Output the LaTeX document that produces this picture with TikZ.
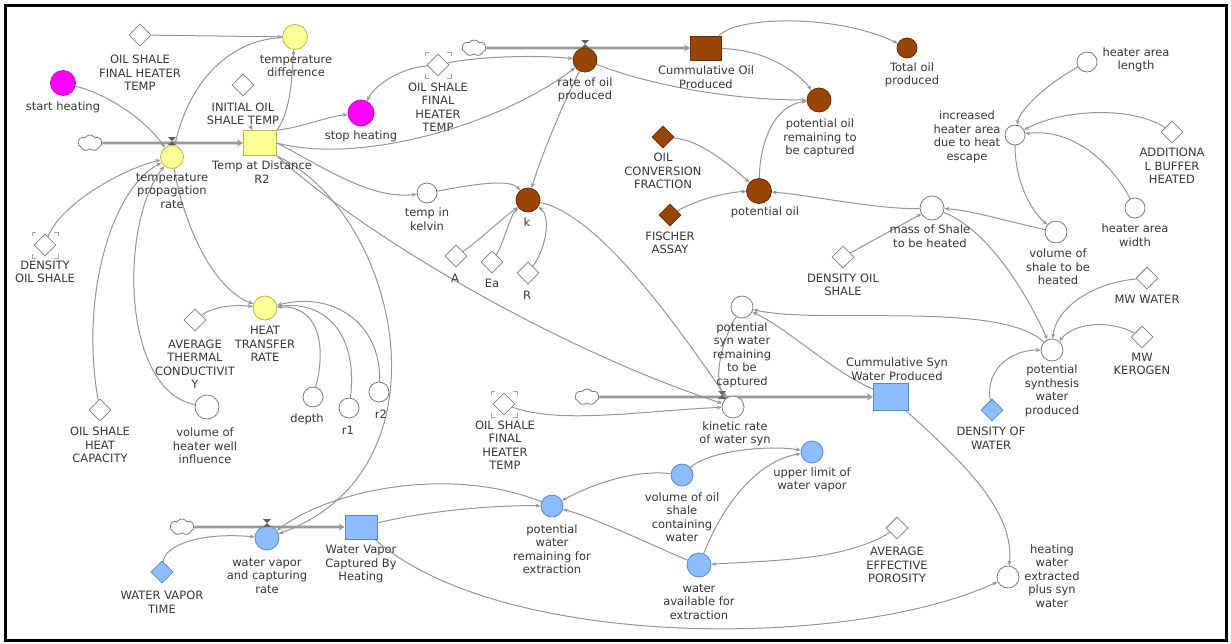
\documentclass[tikz,border=0pt]{standalone}
\usepackage{fontspec}
\newfontfamily\dvs{DejaVu Sans}
\usetikzlibrary{shapes.geometric,shapes.symbols,arrows.meta,calc}
\pgfdeclarelayer{background}
\pgfsetlayers{background,main}
\definecolor{yelF}{RGB}{255,255,150}
\definecolor{yelD}{RGB}{185,185,70}
\definecolor{magF}{RGB}{255,0,255}
\definecolor{magD}{RGB}{200,0,200}
\definecolor{brnF}{RGB}{150,70,0}
\definecolor{brnD}{RGB}{105,45,0}
\definecolor{bluF}{RGB}{140,190,255}
\definecolor{bluD}{RGB}{85,135,215}
\definecolor{lineC}{RGB}{150,150,150}
\definecolor{nodeD}{RGB}{125,125,125}
\definecolor{txtC}{RGB}{55,55,55}
\newcommand\lblf{\dvs\fontsize{11.5}{13.5}\selectfont}
\newcommand\ghostmark[1]{%
 \draw[ghostc] ($(#1)+(-13,-9)$) -- ++(0,-4) -- ++(4,0);
 \draw[ghostc] ($(#1)+(9,-13)$) -- ++(4,0) -- ++(0,4);
 \draw[ghostc] ($(#1)+(13,9)$) -- ++(0,4) -- ++(-4,0);
 \draw[ghostc] ($(#1)+(-9,13)$) -- ++(-4,0) -- ++(0,-4);}
\newcommand\valvemark[2]{\fill[gray!75!black] (#1-4,#2-4) -- (#1+4,#2-4) -- (#1-4,#2+4) -- (#1+4,#2+4) -- cycle;}
\begin{document}
\begin{tikzpicture}[x=1pt,y=-1pt,
 conn/.style={draw=lineC, line width=1pt, -{Stealth[length=5pt,width=4pt]}},
 pipe/.style={draw=gray!80, line width=2.6pt, -{Stealth[length=6pt,width=7pt]}},
 ghostc/.style={draw=gray!70, line width=0.7pt},
 lbl/.style={font=\lblf, align=center, text=txtC, inner sep=0pt},
 auxw/.style={circle, draw=nodeD, fill=white, line width=0.8pt, minimum size=20pt, inner sep=0pt},
 auxy/.style={auxw, draw=yelD, fill=yelF},
 auxm/.style={auxw, draw=magD, fill=magF},
 auxb/.style={auxw, draw=brnD, fill=brnF},
 auxbl/.style={auxw, draw=bluD, fill=bluF},
 convw/.style={diamond, draw=nodeD, fill=white, line width=0.8pt, minimum size=22pt, inner sep=0pt},
 convb/.style={convw, draw=brnD, fill=brnF},
 convbl/.style={convw, draw=bluD, fill=bluF},
 stock/.style={rectangle, line width=0.9pt, minimum width=33pt, minimum height=25pt, inner sep=0pt},
 cloudn/.style={cloud, cloud puffs=7, cloud puff arc=110, aspect=1.5, draw=nodeD, fill=white, line width=0.8pt, minimum width=24pt, minimum height=16pt, inner sep=0pt}
]
\useasboundingbox (0,0) rectangle (1231,643);
\begin{pgfonlayer}{background}
\fill[white] (0,0) rectangle (1231,643);
\end{pgfonlayer}
\draw[line width=3pt] (5,5) rectangle (1226,640);

% ---------- top left ----------
\node[convw] (fhtA) at (140,35) {};
\node[lbl] (fhtAL) at (140,73) {OIL SHALE\\FINAL HEATER\\TEMP};
\node[auxy, minimum size=25pt] (tdiff) at (295,37) {};
\node[lbl] (tdiffL) at (296,66) {temperature\\difference};
\node[auxm, minimum size=25pt] (starth) at (63,83) {};
\node[lbl] (starthL) at (63,107) {start heating};
\node[convw] (initT) at (243,85) {};
\node[lbl] (initTL) at (243,114) {INITIAL OIL\\SHALE TEMP};
\node[cloudn] (cloudA) at (90,143) {};
\node[auxy, minimum size=23pt] (tprop) at (172,157) {};
\node[lbl] (tpropL) at (172,191) {temperature\\propagation\\rate};
\node[stock, fill=yelF, draw=yelD] (tstock) at (260,143) {};
\node[lbl] (tstockL) at (262,172) {Temp at Distance\\R2};

% ---------- top middle ----------
\node[auxm, minimum size=26pt] (stoph) at (361,113) {};
\node[lbl] (stophL) at (361,136) {stop heating};
\node[convw] (fhtB) at (438,65) {};
\node[lbl] (fhtBL) at (438,107) {OIL SHALE\\FINAL\\HEATER\\TEMP};
\node[cloudn] (cloudB) at (474,48) {};
\node[auxb, minimum size=24pt] (rateoil) at (585,60) {};
\node[lbl] (rateoilL) at (585,90) {rate of oil\\produced};
\node[stock, fill=brnF, draw=brnD, minimum width=31pt, minimum height=24pt] (oilstock) at (706,48) {};
\node[lbl] (oilstockL) at (706,77) {Cummulative Oil\\Produced};
\node[auxb, minimum size=20pt] (totoil) at (907,48) {};
\node[lbl] (totoilL) at (912,75) {Total oil\\produced};
\node[auxb, minimum size=24pt] (potrem) at (819,100) {};
\node[lbl] (potremL) at (820,138) {potential oil\\remaining to\\be captured};
\node[convb] (ocf) at (663,137) {};
\node[lbl] (ocfL) at (663,171) {OIL\\CONVERSION\\FRACTION};
\node[auxb, minimum size=25pt] (potoil) at (759,191) {};
\node[lbl] (potoilL) at (765,212) {potential oil};
\node[convb] (fa) at (670,215) {};
\node[lbl] (faL) at (670,243) {FISCHER\\ASSAY};
\node[auxb, minimum size=24pt] (kk) at (528,200) {};
\node[lbl] (kkL) at (527,222) {k};
\node[auxw] (tempk) at (427,193) {};
\node[lbl] (tempkL) at (427,219) {temp in\\kelvin};
\node[convw] (pa) at (456,256) {};
\node[lbl] (paL) at (455,278) {A};
\node[convw] (pea) at (492,262) {};
\node[lbl] (peaL) at (492,283) {Ea};
\node[convw] (pr) at (528,273) {};
\node[lbl] (prL) at (527,295) {R};

% ---------- top right ----------
\node[auxw] (hal) at (1087,62) {};
\node[lbl] (halL) at (1136,60) {heater area\\length};
\node[auxw] (inc) at (1015,135) {};
\node[lbl] (incL) at (967,137) {increased\\heater area\\due to heat\\escape};
\node[convw] (abh) at (1172,132) {};
\node[lbl] (abhL) at (1172,166) {ADDITIONA\\L BUFFER\\HEATED};
\node[auxw] (haw) at (1135,208) {};
\node[lbl] (hawL) at (1135,235) {heater area\\width};
\node[auxw, minimum size=24pt] (mass) at (932,208) {};
\node[lbl] (massL) at (930,236) {mass of Shale\\to be heated};
\node[auxw, minimum size=22pt] (vols) at (1056,232) {};
\node[lbl] (volsL) at (1058,267) {volume of\\shale to be\\heated};
\node[convw] (dos) at (843,257) {};
\node[lbl] (dosL) at (843,285) {DENSITY OIL\\SHALE};
\node[convw] (mww) at (1147,278) {};
\node[lbl] (mwwL) at (1147,299) {MW WATER};
\node[convw] (mwk) at (1142,337) {};
\node[lbl] (mwkL) at (1142,364) {MW\\KEROGEN};
\node[auxw, minimum size=22pt] (psyn) at (1052,350) {};
\node[lbl] (psynL) at (1052,391) {potential\\synthesis\\water\\produced};
\node[convbl] (dow) at (992,410) {};
\node[lbl] (dowL) at (991,438) {DENSITY OF\\WATER};

% ---------- middle ----------
\node[auxw, minimum size=22pt] (psr) at (742,307) {};
\node[lbl] (psrL) at (742,355) {potential\\syn water\\remaining\\to be\\captured};
\node[stock, fill=bluF, draw=bluD, minimum width=35pt, minimum height=27pt] (synstock) at (891,397) {};
\node[lbl] (synstockL) at (897,369) {Cummulative Syn\\Water Produced};
\node[cloudn] (cloudC) at (587,397) {};
\node[auxw, minimum size=22pt] (kin) at (733,407) {};
\node[lbl] (kinL) at (735,434) {kinetic rate\\of water syn};
\node[convw] (fhtC) at (504,404) {};
\node[lbl] (fhtCL) at (505,445) {OIL SHALE\\FINAL\\HEATER\\TEMP};

% ---------- left middle ----------
\node[convw] (dosA) at (45,245) {};
\node[lbl] (dosAL) at (45,272) {DENSITY\\OIL SHALE};
\node[convw] (atc) at (195,320) {};
\node[lbl] (atcL) at (195,364) {AVERAGE\\THERMAL\\CONDUCTIVIT\\Y};
\node[auxy, minimum size=24pt] (htr) at (265,308) {};
\node[lbl] (htrL) at (265,344) {HEAT\\TRANSFER\\RATE};
\node[auxw] (depth) at (313,397) {};
\node[lbl] (depthL) at (307,419) {depth};
\node[auxw] (rA) at (349,408) {};
\node[lbl] (rAL) at (348,430) {r1};
\node[auxw] (rB) at (379,392) {};
\node[lbl] (rBL) at (381,414) {r2};
\node[convw] (hcap) at (100,410) {};
\node[lbl] (hcapL) at (100,445) {OIL SHALE\\HEAT\\CAPACITY};
\node[auxw, minimum size=24pt] (vhwi) at (207,407) {};
\node[lbl] (vhwiL) at (205,446) {volume of\\heater well\\influence};

% ---------- bottom ----------
\node[cloudn] (cloudD) at (182,527) {};
\node[auxbl, minimum size=24pt] (wvr) at (267,538) {};
\node[lbl] (wvrL) at (267,576) {water vapor\\and capturing\\rate};
\node[convbl] (wvt) at (162,572) {};
\node[lbl] (wvtL) at (162,602) {WATER VAPOR\\TIME};
\node[stock, fill=bluF, draw=bluD, minimum width=32pt, minimum height=24pt] (wvstock) at (361,527) {};
\node[lbl] (wvstockL) at (361,564) {Water Vapor\\Captured By\\Heating};
\node[auxbl, minimum size=22pt] (pwr) at (552,506) {};
\node[lbl] (pwrL) at (552,549) {potential\\water\\remaining for\\extraction};
\node[auxbl, minimum size=22pt] (vosc) at (682,475) {};
\node[lbl] (voscL) at (682,517) {volume of oil\\shale\\containing\\water};
\node[auxbl, minimum size=22pt] (ulim) at (812,452) {};
\node[lbl] (ulimL) at (812,480) {upper limit of\\water vapor};
\node[auxbl, minimum size=24pt] (wav) at (699,565) {};
\node[lbl] (wavL) at (699,602) {water\\available for\\extraction};
\node[convw] (aep) at (897,528) {};
\node[lbl] (aepL) at (897,565) {AVERAGE\\EFFECTIVE\\POROSITY};
\node[auxw, minimum size=22pt] (hwe) at (1008,577) {};
\node[lbl] (hweL) at (1052,576) {heating\\water\\extracted\\plus syn\\water};

% ghosts and valves
\ghostmark{fhtB}
\ghostmark{fhtC}
\ghostmark{dosA}
\valvemark{172}{141}
\valvemark{585}{44}
\valvemark{722}{395}
\valvemark{267}{523}

\begin{pgfonlayer}{background}
% pipes
\draw[pipe] (cloudA) -- (tstock);
\draw[pipe] (cloudB) -- (oilstock);
\draw[pipe] (cloudC) -- (synstock);
\draw[pipe] (cloudD) -- (wvstock);
% top left connectors
\draw[conn] (fhtA) -- (tdiff);
\draw[conn] (tdiff) .. controls (230,40) and (190,80) .. (tprop);
\draw[conn] (tstock.north east) .. controls (292,110) and (292,70) .. (tdiff);
\draw[conn] (starth) .. controls (110,95) and (145,120) .. (tprop);
\draw[conn] (initTL) -- (tstock);
\draw[conn] (tstock.north east) .. controls (300,128) and (325,117) .. (stoph);
\draw[conn] (fhtB) .. controls (400,68) and (375,85) .. (stoph);
\draw[conn] (fhtB) .. controls (480,56) and (540,55) .. (rateoil);
\draw[conn] (tstock.east) .. controls (360,165) and (500,125) .. (rateoil);
\draw[conn] (tstock.east) .. controls (320,165) and (370,200) .. (tempk);
\draw[conn] (tempk) .. controls (470,185) and (510,178) .. (kk);
\draw[conn] (rateoil) .. controls (560,110) and (540,160) .. (kk);
\draw[conn] (pa) .. controls (480,240) and (500,220) .. (kk);
\draw[conn] (pea) .. controls (505,240) and (510,215) .. (kk);
\draw[conn] (pr) .. controls (548,245) and (550,215) .. (kk);
\draw[conn] (kk) .. controls (600,215) and (680,330) .. (kin);
\draw[conn] (tstock.south east) .. controls (370,240) and (560,350) .. (kin);
\draw[conn] (tstock.south east) .. controls (400,215) and (455,470) .. (wvr);
% left connectors
\draw[conn] (dosA) .. controls (60,205) and (120,170) .. (tprop);
\draw[conn] (hcap) .. controls (80,300) and (110,190) .. (tprop);
\draw[conn] (vhwi) .. controls (120,390) and (120,220) .. (tprop);
\draw[conn] (tprop) .. controls (185,230) and (215,290) .. (htr);
\draw[conn] (atc) .. controls (215,305) and (240,305) .. (htr);
\draw[conn] (depth) .. controls (328,340) and (315,305) .. (htr);
\draw[conn] (rA) .. controls (358,340) and (330,300) .. (htr);
\draw[conn] (rB) .. controls (382,330) and (340,290) .. (htr);
% oil connectors
\draw[conn] (oilstock) .. controls (740,15) and (840,15) .. (totoil);
\draw[conn] (oilstock) .. controls (770,50) and (800,75) .. (potrem);
\draw[conn] (rateoil) .. controls (650,85) and (730,100) .. (potrem);
\draw[conn] (potoil) .. controls (760,140) and (775,105) .. (potrem);
\draw[conn] (ocf) .. controls (700,140) and (730,165) .. (potoil);
\draw[conn] (fa) .. controls (700,198) and (730,192) .. (potoil);
\draw[conn] (mass) .. controls (880,210) and (810,195) .. (potoil);
\draw[conn] (dos) -- (mass);
\draw[conn] (vols) .. controls (1010,222) and (970,210) .. (mass);
\draw[conn] (inc) .. controls (1015,180) and (1030,210) .. (vols);
\draw[conn] (hal) .. controls (1045,85) and (1020,110) .. (inc);
\draw[conn] (abh) .. controls (1130,105) and (1060,110) .. (inc);
\draw[conn] (haw) .. controls (1110,160) and (1070,128) .. (inc);
% synthesis water
\draw[conn] (mass) .. controls (990,230) and (1030,300) .. (psyn);
\draw[conn] (mww) .. controls (1090,283) and (1055,310) .. (psyn);
\draw[conn] (mwk) .. controls (1110,320) and (1075,322) .. (psyn);
\draw[conn] (dow) .. controls (985,370) and (1010,350) .. (psyn);
\draw[conn] (psyn) .. controls (1000,300) and (820,325) .. (psr);
\draw[conn] (synstock) .. controls (830,370) and (790,330) .. (psr);
\draw[conn] (psr) .. controls (722,340) and (712,380) .. (kin);
\draw[conn] (fhtC) .. controls (560,425) and (650,410) .. (kin);
\draw[conn] (synstock) .. controls (960,460) and (1015,510) .. (hwe);
% water vapor
\draw[conn] (wvstock) .. controls (500,650) and (850,650) .. (hwe);
\draw[conn] (wvstock) .. controls (430,510) and (500,505) .. (pwr);
\draw[conn] (pwr) .. controls (450,465) and (330,490) .. (wvr);
\draw[conn] (wvt) .. controls (165,545) and (200,532) .. (wvr);
\draw[conn] (vosc) .. controls (640,470) and (600,480) .. (pwr);
\draw[conn] (wav) .. controls (640,540) and (600,520) .. (pwr);
\draw[conn] (vosc) .. controls (710,450) and (770,445) .. (ulim);
\draw[conn] (wav) .. controls (725,500) and (760,460) .. (ulim);
\draw[conn] (aep) .. controls (845,560) and (780,560) .. (wav);
\end{pgfonlayer}
\end{tikzpicture}
\end{document}
